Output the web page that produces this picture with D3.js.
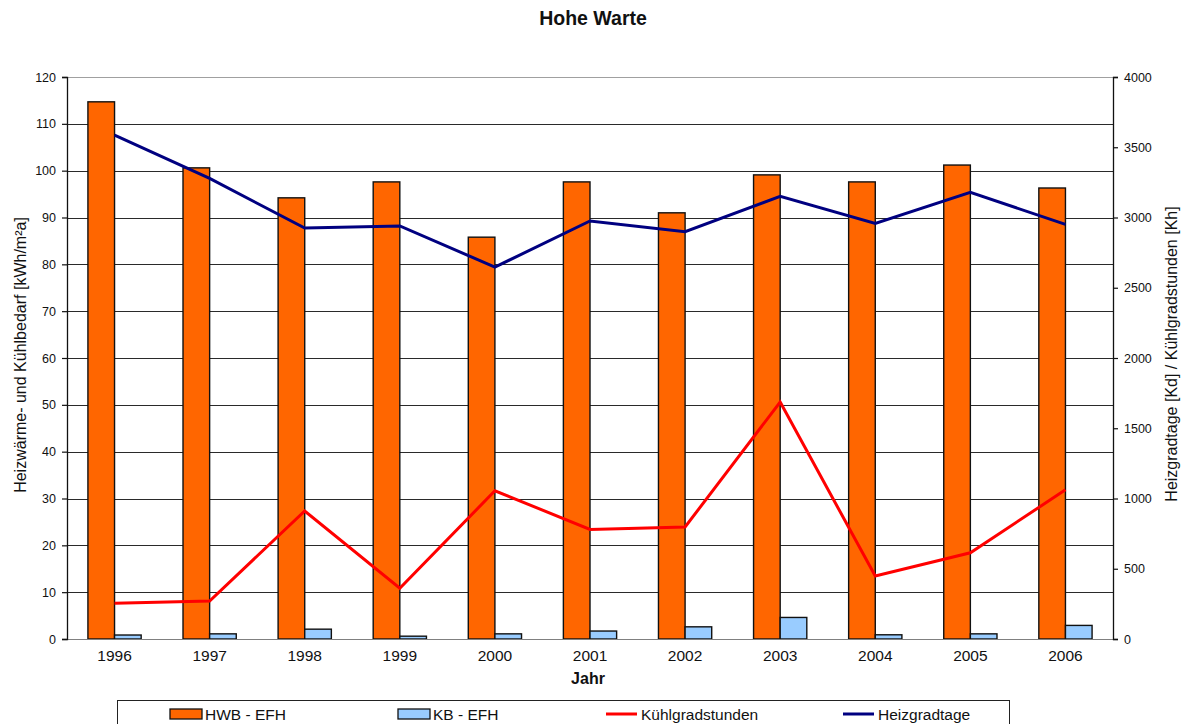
<!DOCTYPE html>
<html>
<head>
<meta charset="utf-8">
<script src="https://cdn.jsdelivr.net/npm/d3@7"></script>
<style>
  body { margin: 0; background: #fff; }
  svg { display: block; font-family: "Liberation Sans", Arial, sans-serif; }
</style>
</head>
<body>
<svg id="chart" width="1186" height="724"></svg>
<script>
// Jahreswerte Hohe Warte 1996–2006
const years = ["1996","1997","1998","1999","2000","2001","2002","2003","2004","2005","2006"];
const hwbEfh = [114.7, 100.6, 94.2, 97.6, 85.8, 97.6, 91.0, 99.1, 97.6, 101.2, 96.3];   // kWh/m²a
const kbEfh = [0.85, 1.1, 2.1, 0.6, 1.1, 1.7, 2.6, 4.6, 0.9, 1.1, 2.9];                   // kWh/m²a
const kuehlgradstunden = [255, 270, 911, 361, 1055, 780, 797, 1687, 448, 614, 1062];     // Kh
const heizgradtage = [3587, 3278, 2925, 2940, 2647, 2975, 2899, 3150, 2958, 3179, 2951]; // Kd
const leftTicks = [0, 10, 20, 30, 40, 50, 60, 70, 80, 90, 100, 110, 120];
const rightTicks = [0, 500, 1000, 1500, 2000, 2500, 3000, 3500, 4000];

const svg = d3.select("#chart");
const m = { left: 67, right: 1113, top: 77, bottom: 639 };

const x = d3.scaleBand().domain(years).range([m.left, m.right]).padding(0);
const yL = d3.scaleLinear().domain([0, 120]).range([m.bottom, m.top]);
const yR = d3.scaleLinear().domain([0, 4000]).range([m.bottom, m.top]);
const barW = x.bandwidth() * 0.28;

// Titel
svg.append("text").attr("x", 593).attr("y", 25).attr("text-anchor", "middle")
  .attr("font-size", 19.5).attr("font-weight", "bold").attr("fill", "#111").text("Hohe Warte");

// Gitterlinien
svg.append("g").selectAll("line").data(leftTicks.filter(d => d > 0 && d < 120)).join("line")
  .attr("x1", m.left).attr("x2", m.right)
  .attr("y1", d => Math.round(yL(d)) + 0.5).attr("y2", d => Math.round(yL(d)) + 0.5)
  .attr("stroke", "#2a2a2a").attr("stroke-width", 1);

// Rahmen oben
svg.append("line").attr("x1", m.left).attr("x2", m.right).attr("y1", m.top + 0.5).attr("y2", m.top + 0.5)
  .attr("stroke", "#a0a0a0").attr("stroke-width", 1.2);

// Balken
const g = svg.append("g");
g.selectAll("rect.hwb").data(years).join("rect").attr("class", "hwb")
  .attr("x", d => x(d) + x.bandwidth() / 2 - barW)
  .attr("y", (d, i) => yL(hwbEfh[i]))
  .attr("width", barW)
  .attr("height", (d, i) => yL(0) - yL(hwbEfh[i]))
  .attr("fill", "#FF6600").attr("stroke", "#111").attr("stroke-width", 1.4);
g.selectAll("rect.kb").data(years).join("rect").attr("class", "kb")
  .attr("x", d => x(d) + x.bandwidth() / 2)
  .attr("y", (d, i) => yL(kbEfh[i]))
  .attr("width", barW)
  .attr("height", (d, i) => yL(0) - yL(kbEfh[i]))
  .attr("fill", "#99CCFF").attr("stroke", "#111").attr("stroke-width", 1.4);

// Rahmen unten
svg.append("line").attr("x1", m.left).attr("x2", m.right).attr("y1", m.bottom + 0.5).attr("y2", m.bottom + 0.5)
  .attr("stroke", "#808080").attr("stroke-width", 1.2);

// Linien
const cx = d => x(d) + x.bandwidth() / 2;
const lineR = d3.line().x((d, i) => cx(years[i])).y(d => yR(d));
svg.append("path").datum(kuehlgradstunden).attr("d", lineR)
  .attr("fill", "none").attr("stroke", "#FF0000").attr("stroke-width", 3).attr("stroke-linejoin", "miter");
svg.append("path").datum(heizgradtage).attr("d", lineR)
  .attr("fill", "none").attr("stroke", "#000080").attr("stroke-width", 3).attr("stroke-linejoin", "miter");

// Achsen
const axL = svg.append("g").attr("transform", `translate(${m.left},0)`)
  .call(d3.axisLeft(yL).tickValues(leftTicks).tickSize(5).tickPadding(6).tickFormat(d3.format("d")));
const axR = svg.append("g").attr("transform", `translate(${m.right},0)`)
  .call(d3.axisRight(yR).tickValues(rightTicks).tickSize(5).tickPadding(6).tickFormat(d3.format("d")));
[axL, axR].forEach(a => {
  a.select(".domain").attr("stroke", "#111").attr("stroke-width", 1.3);
  a.selectAll(".tick line").attr("stroke", "#111").attr("stroke-width", 1.2);
  a.selectAll(".tick text").attr("font-size", 12.5).attr("fill", "#111")
    .attr("font-family", "Liberation Sans, Arial, sans-serif");
});

const axB = svg.append("g").attr("transform", `translate(0,${m.bottom})`)
  .call(d3.axisBottom(x).tickSize(0).tickPadding(11));
axB.select(".domain").remove();
axB.selectAll(".tick text").attr("font-size", 15.5).attr("fill", "#111")
  .attr("font-family", "Liberation Sans, Arial, sans-serif");

// Achsentitel
svg.append("text").attr("x", 588).attr("y", 684).attr("text-anchor", "middle")
  .attr("font-size", 16).attr("font-weight", "bold").attr("fill", "#111").text("Jahr");
svg.append("text").attr("transform", "translate(26,355) rotate(-90)").attr("text-anchor", "middle")
  .attr("font-size", 16).attr("fill", "#111").text("Heizwärme- und Kühlbedarf [kWh/m²a]");
svg.append("text").attr("transform", "translate(1177,354) rotate(-90)").attr("text-anchor", "middle")
  .attr("font-size", 16).attr("fill", "#111").text("Heizgradtage [Kd] / Kühlgradstunden [Kh]");

// Legende
const lg = svg.append("g");
lg.append("rect").attr("x", 117.5).attr("y", 700.5).attr("width", 892).attr("height", 40)
  .attr("fill", "#fff").attr("stroke", "#222").attr("stroke-width", 1);
const legend = [
  { label: "HWB - EFH", type: "rect", color: "#FF6600", x: 170 },
  { label: "KB - EFH", type: "rect", color: "#99CCFF", x: 398 },
  { label: "Kühlgradstunden", type: "line", color: "#FF0000", x: 606 },
  { label: "Heizgradtage", type: "line", color: "#000080", x: 843 }
];
legend.forEach(it => {
  if (it.type === "rect") {
    lg.append("rect").attr("x", it.x).attr("y", 709).attr("width", 32).attr("height", 10)
      .attr("fill", it.color).attr("stroke", "#111").attr("stroke-width", 1.3);
  } else {
    lg.append("line").attr("x1", it.x).attr("x2", it.x + 31).attr("y1", 714).attr("y2", 714)
      .attr("stroke", it.color).attr("stroke-width", 3);
  }
  lg.append("text").attr("x", it.x + 35).attr("y", 719.5).attr("font-size", 15.5).attr("fill", "#111").text(it.label);
});
</script>
</body>
</html>
